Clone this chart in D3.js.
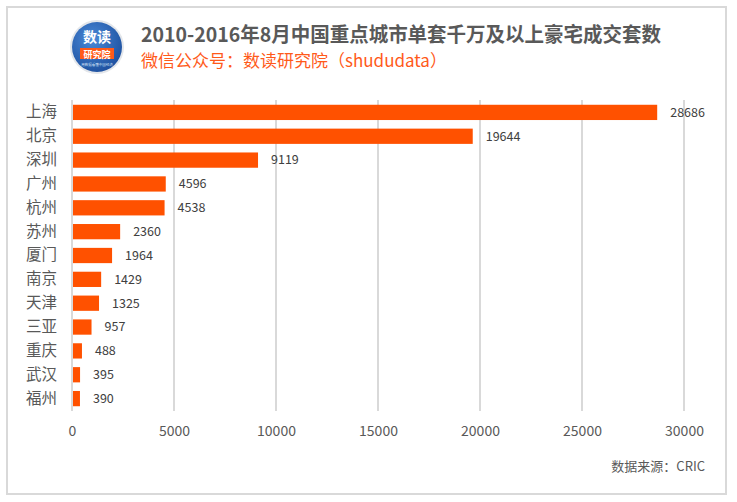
<!DOCTYPE html>
<html>
<head>
<meta charset="utf-8">
<script src="https://cdn.jsdelivr.net/npm/d3@7"></script>
<style>
  body { margin: 0; background: #fff; }
  text { font-family: "Noto Sans CJK SC", "Noto Sans", sans-serif; }
</style>
</head>
<body>
<div id="chart"></div>
<script>
// cities, top to bottom
const cities = ["上海", "北京", "深圳", "广州", "杭州", "苏州", "厦门", "南京", "天津", "三亚", "重庆", "武汉", "福州"];
const deals = [28686, 19644, 9119, 4596, 4538, 2360, 1964, 1429, 1325, 957, 488, 395, 390];
const xTicks = [0, 5000, 10000, 15000, 20000, 25000, 30000];

const title = "2010-2016年8月中国重点城市单套千万及以上豪宅成交套数";
const subtitle = "微信公众号：数读研究院（shududata）";
const source = "数据来源：CRIC";

const W = 737, H = 502;
const svg = d3.select('#chart').append('svg').attr('width', W).attr('height', H);

// outer frame
svg.append('rect')
    .attr('x', 7).attr('y', 7)
    .attr('width', 719).attr('height', 487)
    .attr('fill', '#fff')
    .attr('stroke', '#d9d9d9')
    .attr('stroke-width', 2);

// logo
const logo = svg.append('g').attr('transform', 'translate(97,47)');
const grad = svg.append('defs').append('radialGradient').attr('id', 'lg').attr('cx', '40%').attr('cy', '35%').attr('r', '70%');
grad.append('stop').attr('offset', '0%').attr('stop-color', '#4a8ad8');
grad.append('stop').attr('offset', '100%').attr('stop-color', '#1d4f9e');
logo.append('circle').attr('r', 27).attr('fill', '#e3e6ea');
logo.append('circle').attr('r', 25).attr('fill', 'url(#lg)');
logo.append('text').attr('x', 0).attr('y', -5)
    .attr('text-anchor', 'middle').attr('fill', '#fff')
    .attr('font-size', 14).attr('font-weight', 'bold').text('数读');
logo.append('rect').attr('x', -17).attr('y', 1).attr('width', 34).attr('height', 11).attr('fill', '#ff5a1a');
logo.append('text').attr('x', 0).attr('y', 10.5)
    .attr('text-anchor', 'middle').attr('fill', '#fff')
    .attr('font-size', 9).attr('font-weight', 'bold').text('研究院');
logo.append('text').attr('x', 0).attr('y', 18.5)
    .attr('text-anchor', 'middle').attr('fill', '#cfe0f5')
    .attr('font-size', 3.5).text('用数据看懂中国经济');

// titles
svg.append('text').attr('x', 141).attr('y', 42)
    .attr('fill', '#595959').attr('font-size', 20).attr('font-weight', 'bold')
    .attr('textLength', 520).attr('lengthAdjust', 'spacingAndGlyphs')
    .text(title);
svg.append('text').attr('x', 141).attr('y', 67)
    .attr('fill', '#ff5a1a').attr('font-size', 17)
    .text(subtitle);

// scales
const x = d3.scaleLinear().domain([0, 30000]).range([72, 684]);
const y = d3.scaleBand().domain(cities).range([100, 411]).paddingInner(0.36).paddingOuter(0.2);

// gridlines
svg.append('g').selectAll('line').data(xTicks).join('line')
    .attr('x1', d => x(d)).attr('x2', d => x(d))
    .attr('y1', 100).attr('y2', 411)
    .attr('stroke', '#d9d9d9').attr('stroke-width', 2);

// x axis labels
const xAxis = svg.append('g')
    .attr('transform', 'translate(0,411)')
    .call(d3.axisBottom(x).tickValues(xTicks).tickFormat(d3.format('d')).tickSize(0).tickPadding(15));
xAxis.select('.domain').remove();
xAxis.selectAll('text').attr('fill', '#595959').attr('font-size', 14)
    .attr('font-family', '"Noto Sans CJK SC", sans-serif');

// y axis labels
const yAxis = svg.append('g')
    .attr('transform', 'translate(72,0)')
    .call(d3.axisLeft(y).tickSize(0).tickPadding(15));
yAxis.select('.domain').remove();
yAxis.selectAll('text').attr('fill', '#595959').attr('font-size', 15.5)
    .attr('font-family', '"Noto Sans CJK SC", sans-serif');

// bars
svg.append('g').selectAll('rect').data(cities).join('rect')
    .attr('x', x(0) + 1)
    .attr('y', d => y(d))
    .attr('width', (d, i) => x(deals[i]) - x(0) - 1)
    .attr('height', y.bandwidth())
    .attr('fill', '#ff5100');

// value labels
svg.append('g').selectAll('text').data(cities).join('text')
    .attr('x', (d, i) => x(deals[i]) + 13)
    .attr('y', d => y(d) + y.bandwidth() / 2)
    .attr('dy', '0.35em')
    .attr('fill', '#404040').attr('font-size', 12.5)
    .text((d, i) => deals[i]);

// source
svg.append('text').attr('x', 705).attr('y', 471)
    .attr('text-anchor', 'end')
    .attr('fill', '#595959').attr('font-size', 13)
    .text(source);
</script>
</body>
</html>
